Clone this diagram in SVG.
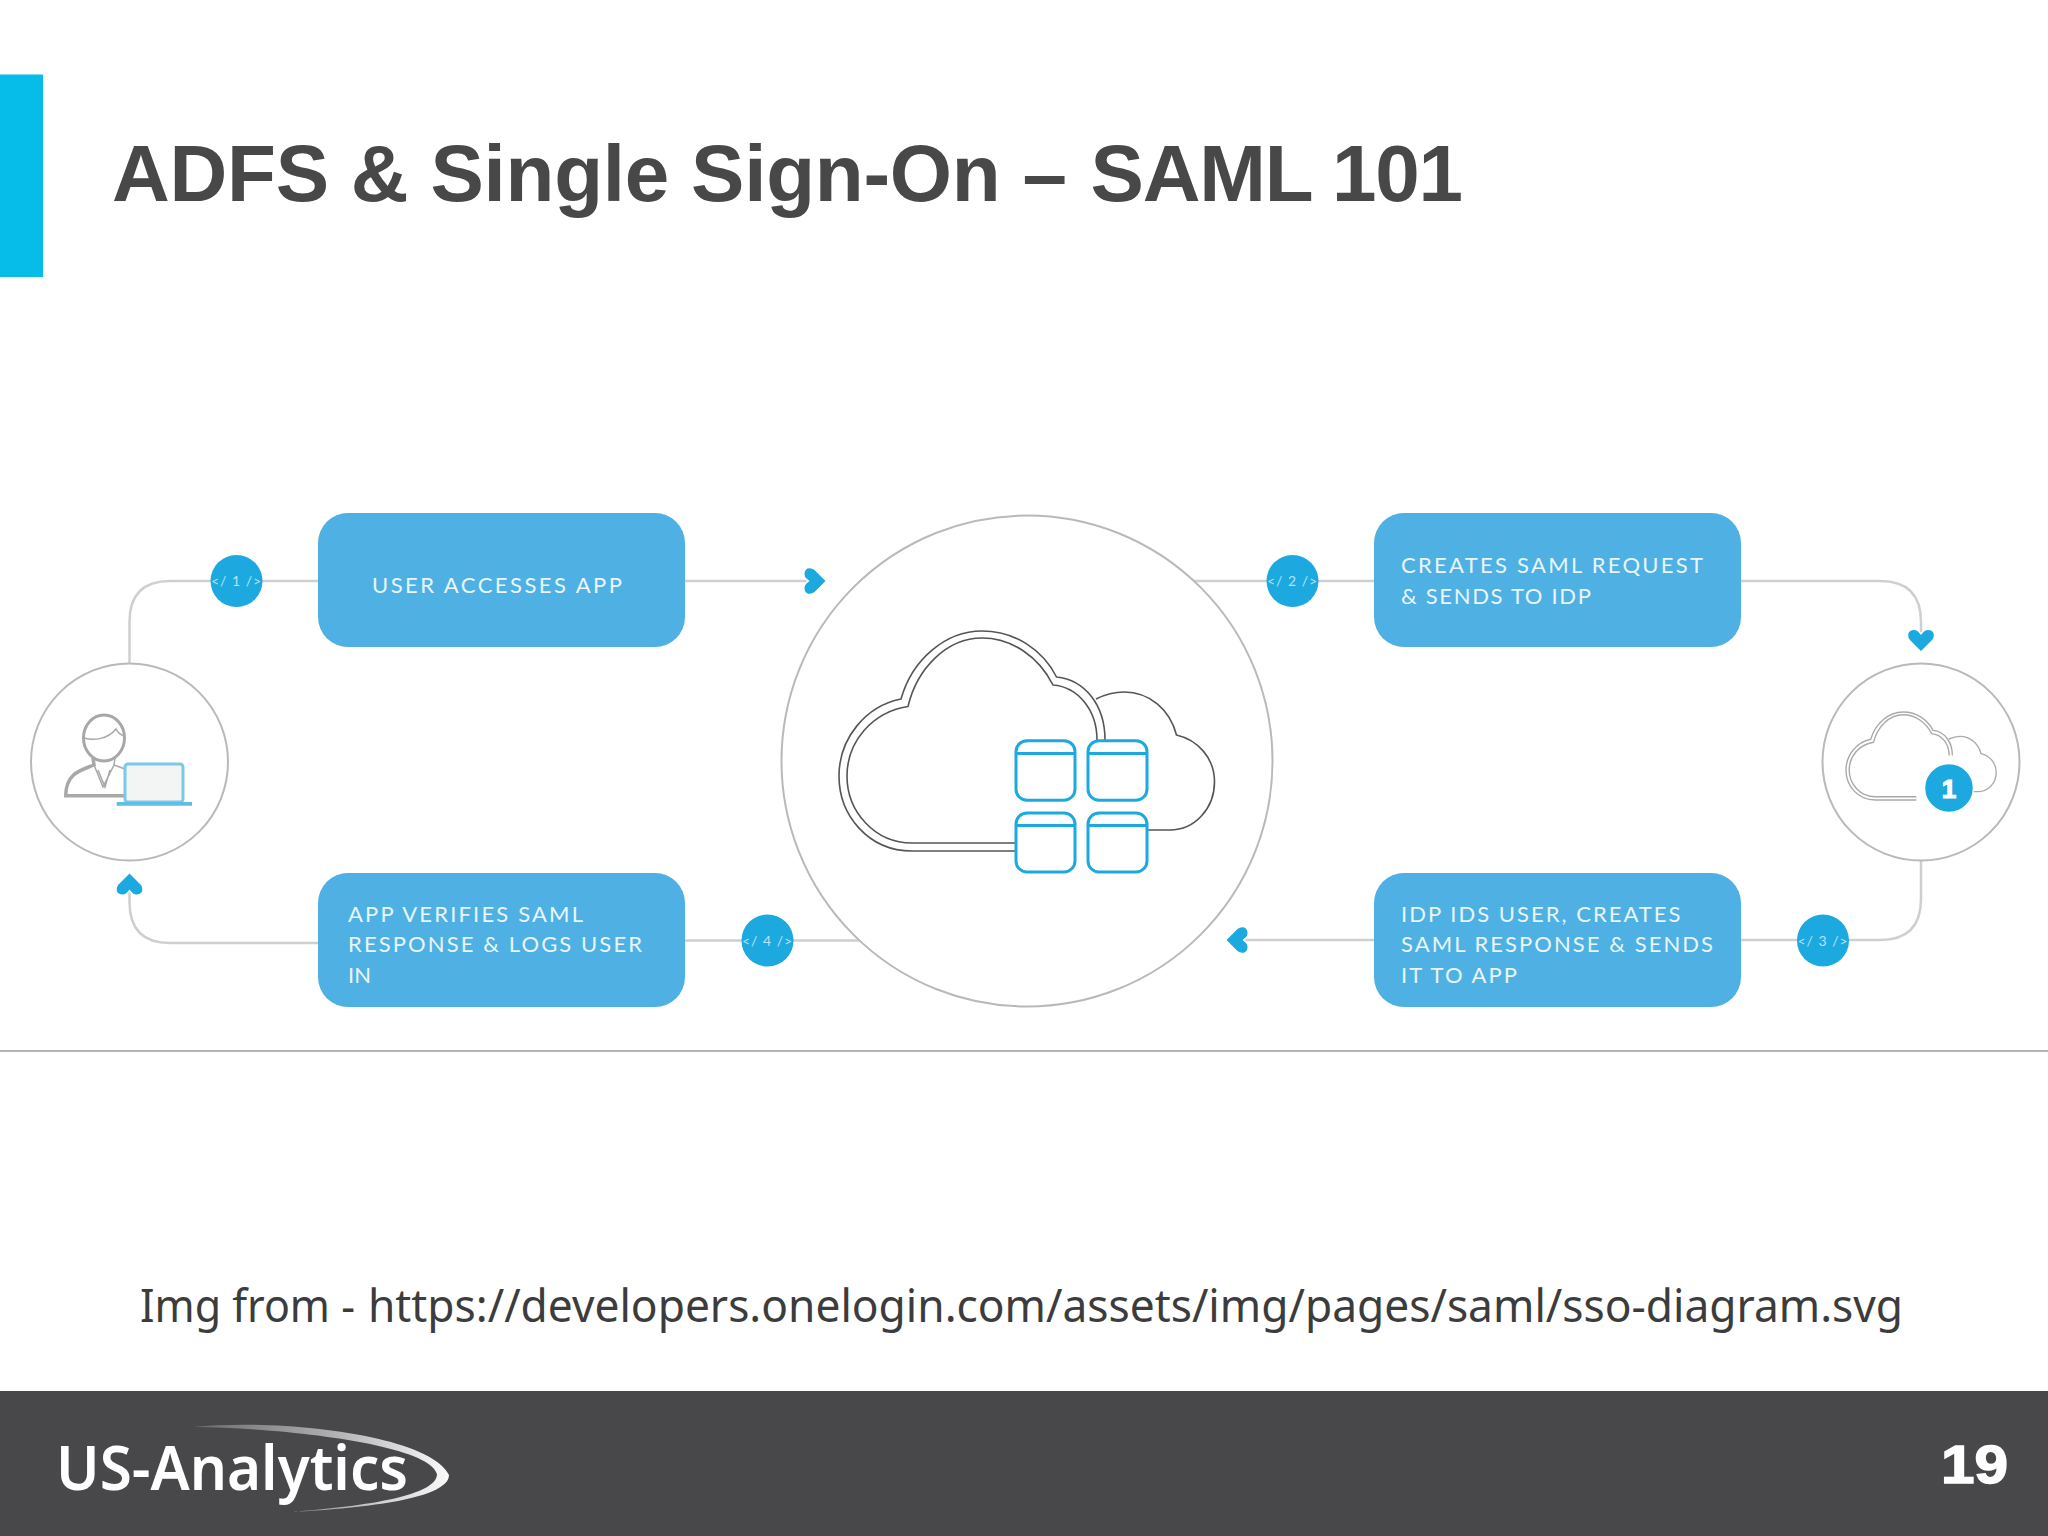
<svg xmlns="http://www.w3.org/2000/svg" width="2048" height="1536" viewBox="0 0 2048 1536">
<style>
.sans{font-family:"Liberation Sans",Arial,sans-serif}
.box{fill:#4fb1e3}
.boxt{font-family:Lato,"Open Sans",sans-serif;font-size:22px;fill:#e9f6fc}
.ring{fill:none;stroke:#b9b9b9;stroke-width:2}
.conn{fill:none;stroke:#cfcfcf;stroke-width:2.5}
.badge{fill:#1ca9df}
.badget{font-family:Lato,sans-serif;font-size:14px;fill:#b5e3f6}
.win{fill:#fff;stroke:#1ca9df;stroke-width:3}
.cl{fill:none;stroke:#555;stroke-width:1.6}
</style>
<defs>
<marker id="chev" markerUnits="userSpaceOnUse" markerWidth="24" markerHeight="30" refX="0" refY="0" orient="auto" viewBox="-3 -15 24 30">
<path d="M19 0L8-11Q5-13.500 1-12.500Q-2-11-2-7Q-2-4 0-2.500L3 0L0 2.500Q-2 4-2 7Q-2 11 1 12.500Q5 13.500 8 11Z" fill="#1ca9df"/>
</marker>
<linearGradient id="sw" x1="193" y1="0" x2="449" y2="0" gradientUnits="userSpaceOnUse">
<stop offset="0" stop-color="#6a6a6a"/><stop offset=".5" stop-color="#a9a9a9"/><stop offset="1" stop-color="#fafafa"/>
</linearGradient>
<g id="cloudpaths">
<path d="M1015 851H912C868 851 839 815 839 776C839 738 866 706 901 699C912 660 945 631 982 631C1015 631 1043 650 1056.500 677C1085 680 1105 705 1105 740"/>
<path d="M1015 843H912C875 843 847 812 847 776C847 742 872 712 908 706.500C917 668 947 638 982 638C1012 638 1039 657 1053 685C1078 687 1097 710 1097 740"/>
<path d="M1096 699C1104 695 1113 692 1124 692C1150 692 1170 710 1176.500 735C1198 740 1214.500 758 1214.500 782C1214.500 808 1195 830 1170 830H1148"/>
</g>
</defs>

<rect width="2048" height="1536" fill="#fff"/>
<rect id="accent" x="0" y="74.500" width="43" height="202.500" fill="#05bde8"/>
<text id="title" class="sans" y="201" font-size="80" font-weight="700" fill="#484848"><tspan x="112" textLength="955">ADFS &amp; Single Sign-On –</tspan> <tspan x="1090.500" textLength="372.500">SAML 101</tspan></text>

<g id="connectors">
<path class="conn" d="M129.500 663V622Q129.500 581 170 581H318"/>
<path class="conn" d="M685 581H806.500" marker-end="url(#chev)"/>
<path class="conn" d="M1194 581H1374"/>
<path class="conn" d="M1741 581H1880Q1921 581 1921 622V632" marker-end="url(#chev)"/>
<path class="conn" d="M1921 861V899Q1921 940 1880 940H1741"/>
<path class="conn" d="M1374 940H1245.500" marker-end="url(#chev)"/>
<path class="conn" d="M860 940.500H685"/>
<path class="conn" d="M318 943H170Q129.500 943 129.500 902V892.500" marker-end="url(#chev)"/>
</g>

<g id="node-user">
<circle class="ring" cx="129.500" cy="762" r="98.500"/>
<g fill="none" stroke="#a8a8a8" stroke-width="3">
<ellipse cx="104" cy="738" rx="20.500" ry="23"/>
<path d="M84 738C94 741 108 739 116 729C118 733 121 735 124 736" stroke-width="1.500"/>
<path d="M93 758L94 765C82 770 66 772 65.700 795.700H125" stroke-width="3.500"/>
<path d="M115 758L114 765L125 769M94 765L103 787L114 765M98 770L105 787L110 770" stroke-width="1.500"/>
</g>
<rect x="125" y="764" width="58" height="38" rx="3" fill="#f3f4f4" stroke="#7cc8e8" stroke-width="3"/>
<path d="M116.700 802H192V805.700H116.700Z" fill="#5fbde6"/>
</g>

<g id="node-accesses">
<rect class="box" x="318" y="513" width="367" height="134" rx="30"/>
<text class="boxt" x="372" y="593" textLength="250">USER ACCESSES APP</text>
</g>
<g id="badge-1">
<circle class="badge" cx="236.500" cy="581" r="26"/>
<text class="badget" x="236.500" y="586" text-anchor="middle" letter-spacing="1">&lt;/ 1 /&gt;</text>
</g>

<g id="node-cloud">
<circle class="ring" cx="1027" cy="761" r="245.500"/>
<use href="#cloudpaths" class="cl"/>
<g id="wins">
<rect class="win" x="1016" y="740.700" width="59" height="59.500" rx="11"/>
<rect class="win" x="1088" y="740.700" width="59" height="59.500" rx="11"/>
<rect class="win" x="1016" y="813" width="59" height="59" rx="11"/>
<rect class="win" x="1088" y="813" width="59" height="59" rx="11"/>
<path d="M1016 753.500H1075M1088 753.500H1147M1016 825.500H1075M1088 825.500H1147" fill="none" stroke="#1ca9df" stroke-width="3"/>
</g>
</g>

<g id="node-saml-request">
<rect class="box" x="1374" y="513" width="367" height="134" rx="30"/>
<text class="boxt" x="1401" y="573" textLength="302">CREATES SAML REQUEST</text>
<text class="boxt" x="1401" y="604" textLength="190">&amp; SENDS TO IDP</text>
</g>
<g id="badge-2">
<circle class="badge" cx="1292.500" cy="581" r="26"/>
<text class="badget" x="1292.500" y="586" text-anchor="middle" letter-spacing="1">&lt;/ 2 /&gt;</text>
</g>

<g id="node-idp">
<circle class="ring" cx="1921" cy="762" r="98.500"/>
<g transform="translate(1510.400 459.600) scale(.4)" stroke-width="3.500" fill="none" stroke="#aaa">
<use href="#cloudpaths"/>
</g>
<circle class="badge" cx="1949" cy="788" r="24.500" stroke="#fff" stroke-width="1.500"/>
<text class="sans" x="1949" y="797.500" font-size="26" font-weight="700" fill="#fff" stroke="#fff" stroke-width="1.200" text-anchor="middle">1</text>
</g>

<g id="node-idp-response">
<rect class="box" x="1374" y="873" width="367" height="134" rx="30"/>
<text class="boxt" x="1401" y="921.500" textLength="279.500">IDP IDS USER, CREATES</text>
<text class="boxt" x="1401" y="952" textLength="312">SAML RESPONSE &amp; SENDS</text>
<text class="boxt" x="1401" y="982.500" textLength="116">IT TO APP</text>
</g>
<g id="badge-3">
<circle class="badge" cx="1823" cy="940.500" r="26"/>
<text class="badget" x="1823" y="945.500" text-anchor="middle" letter-spacing="1">&lt;/ 3 /&gt;</text>
</g>

<g id="node-app-verifies">
<rect class="box" x="318" y="873" width="367" height="134" rx="30"/>
<text class="boxt" x="348" y="921.500" textLength="235">APP VERIFIES SAML</text>
<text class="boxt" x="348" y="952" textLength="294">RESPONSE &amp; LOGS USER</text>
<text class="boxt" x="348" y="982.500" textLength="23">IN</text>
</g>
<g id="badge-4">
<circle class="badge" cx="767.500" cy="940.500" r="26"/>
<text class="badget" x="767.500" y="945.500" text-anchor="middle" letter-spacing="1">&lt;/ 4 /&gt;</text>
</g>

<rect id="rule" x="0" y="1050" width="2048" height="2" fill="#b4b4b4"/>
<text id="source" y="1322" font-family="'Noto Sans','Open Sans',sans-serif" font-size="46" fill="#3c3c3c"><tspan x="140" textLength="215" lengthAdjust="spacingAndGlyphs">Img from -</tspan> <tspan x="368" textLength="1535" lengthAdjust="spacingAndGlyphs">https://developers.onelogin.com/assets/img/pages/saml/sso-diagram.svg</tspan></text>

<g id="footer">
<rect x="0" y="1391" width="2048" height="145" fill="#48484a"/>
<path d="M193 1427C280 1418 430 1435 449 1475C449 1498 370 1508 290 1512C370 1506 437 1495 437 1474C430 1445 290 1428 193 1427Z" fill="url(#sw)"/>
<text x="56" y="1490" font-family="'Noto Sans','Open Sans',sans-serif" font-size="62" font-weight="600" fill="#fff" textLength="352" lengthAdjust="spacingAndGlyphs">US-Analytics</text>
<text class="sans" x="1941" y="1483" font-size="54" font-weight="700" fill="#fff" stroke="#fff" stroke-width="1.500" textLength="67" lengthAdjust="spacingAndGlyphs">19</text>
</g>
</svg>
